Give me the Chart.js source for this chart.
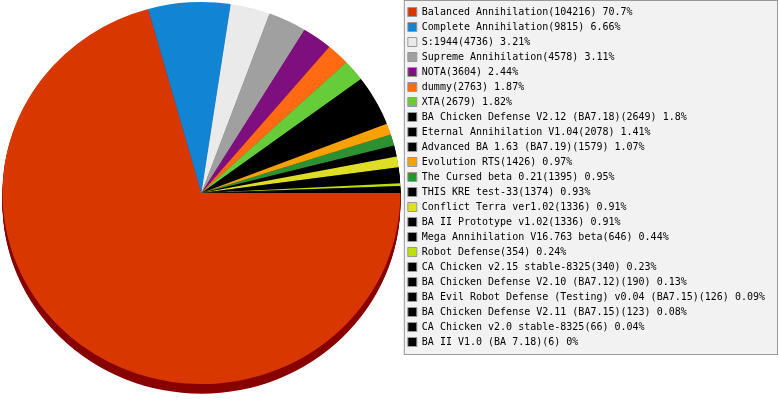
<!DOCTYPE html>
<html>
<head>
<meta charset="utf-8">
<script src="https://cdn.jsdelivr.net/npm/chart.js@4/dist/chart.umd.min.js"></script>
<style>
  body { margin: 0; background: #fff; }
  #wrap { width: 779px; height: 400px; position: relative; }
</style>
</head>
<body>
<div id="wrap"><canvas id="modChart"></canvas></div>
<script>
// Mods and how many times each was played
const modNames = [
    "Balanced Annihilation", "Complete Annihilation", "S:1944", "Supreme Annihilation",
    "NOTA", "dummy", "XTA", "BA Chicken Defense V2.12 (BA7.18)",
    "Eternal Annihilation V1.04", "Advanced BA 1.63 (BA7.19)", "Evolution RTS",
    "The Cursed beta 0.21", "THIS KRE test-33", "Conflict Terra ver1.02",
    "BA II Prototype v1.02", "Mega Annihilation V16.763 beta", "Robot Defense",
    "CA Chicken v2.15 stable-8325", "BA Chicken Defense V2.10 (BA7.12)",
    "BA Evil Robot Defense (Testing) v0.04 (BA7.15)", "BA Chicken Defense V2.11 (BA7.15)",
    "CA Chicken v2.0 stable-8325", "BA II V1.0 (BA 7.18)"
];
const modCounts = [104216, 9815, 4736, 4578, 3604, 2763, 2679, 2649, 2078, 1579, 1426,
    1395, 1374, 1336, 1336, 646, 354, 340, 190, 126, 123, 66, 6];
const modPercents = ["70.7", "6.66", "3.21", "3.11", "2.44", "1.87", "1.82", "1.8", "1.41",
    "1.07", "0.97", "0.95", "0.93", "0.91", "0.91", "0.44", "0.24", "0.23", "0.13",
    "0.09", "0.08", "0.04", "0"];

const sliceColors = [
    "#D83800", "#1184D4", "#EAEAEA", "#A0A0A0", "#7F0F7F", "#FF6A12", "#66CC3A",
    "#000000", "#000000", "#000000", "#F9A002", "#2E9131", "#000000", "#DEDE24",
    "#000000", "#000000", "#BCE000", "#000000", "#000000", "#000000", "#000000",
    "#000000", "#000000"
];

const DEPTH = 10;      // thickness of the pie side
const SQUASH = 0.96;   // slight tilt of the pie

function sideColor(hex) {
    if (hex === "#D83800") return "#880000";
    const n = parseInt(hex.slice(1), 16);
    const r = Math.round(((n >> 16) & 255) * 0.6);
    const g = Math.round(((n >> 8) & 255) * 0.6);
    const b = Math.round((n & 255) * 0.6);
    return `rgb(${r},${g},${b})`;
}

// Tilted pie with a visible side, drawn from the arc elements
const pie3d = {
    id: "pie3d",
    beforeDatasetsDraw(chart) {
        const ctx = chart.ctx;
        const top = chart.chartArea.top;
        ctx.save();
        ctx.translate(0, top);
        ctx.scale(1, SQUASH);
        ctx.translate(0, -top);
        const meta = chart.getDatasetMeta(0);
        for (let k = DEPTH; k >= 1; k--) {
            meta.data.forEach((arc, i) => {
                if (arc.endAngle - arc.startAngle <= 0) return;
                ctx.beginPath();
                ctx.moveTo(arc.x, arc.y + k);
                ctx.arc(arc.x, arc.y + k, arc.outerRadius, arc.startAngle, arc.endAngle);
                ctx.closePath();
                ctx.fillStyle = sideColor(sliceColors[i]);
                ctx.fill();
            });
        }
    },
    afterDatasetsDraw(chart) {
        chart.ctx.restore();
    }
};

// Grey framed box behind the legend
const legendBox = {
    id: "legendBox",
    beforeDraw(chart) {
        const lg = chart.legend;
        const ctx = chart.ctx;
        const opts = lg.options.labels;
        const n = lg.legendItems.length;
        const bottom = lg.top + n * (opts.font.size + opts.padding) + 7;
        ctx.save();
        ctx.fillStyle = "#F2F2F2";
        ctx.fillRect(lg.left + 1, 0, chart.width - lg.left - 2, bottom);
        ctx.strokeStyle = "#999999";
        ctx.lineWidth = 1;
        ctx.strokeRect(lg.left + 1.5, 0.5, chart.width - lg.left - 3, bottom);
        ctx.restore();
    }
};

const labels = modNames.map((name, i) => `${name}(${modCounts[i]}) ${modPercents[i]}%`);

new Chart(document.getElementById("modChart"), {
    type: "pie",
    data: {
        labels: labels,
        datasets: [{
            data: modCounts,
            backgroundColor: sliceColors,
            borderWidth: 0
        }]
    },
    options: {
        responsive: true,
        maintainAspectRatio: false,
        animation: false,
        devicePixelRatio: 1,
        rotation: 90,
        layout: { padding: { top: 2, right: 4, bottom: 0, left: 0 } },
        plugins: {
            tooltip: { enabled: false },
            legend: {
                position: "right",
                align: "start",
                labels: {
                    boxWidth: 9,
                    boxHeight: 9,
                    padding: 5,
                    color: "#000",
                    font: { family: "'DejaVu Sans Mono', monospace", size: 10 },
                    generateLabels(chart) {
                        const items = Chart.overrides.pie.plugins.legend.labels.generateLabels(chart);
                        items.forEach(it => {
                            it.strokeStyle = "#999999";
                            it.lineWidth = 1;
                        });
                        return items;
                    }
                }
            }
        }
    },
    plugins: [legendBox, pie3d]
});
</script>
</body>
</html>
